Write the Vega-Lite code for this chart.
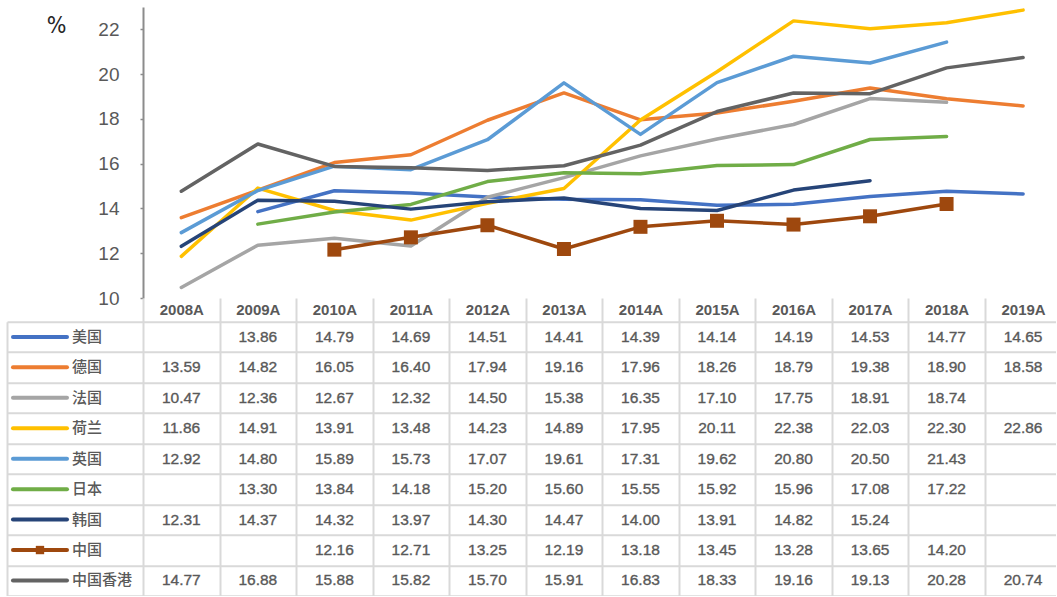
{
  "$schema": "https://vega.github.io/schema/vega-lite/v6.json",
  "padding": {"left": 7, "top": 7, "right": 0, "bottom": 0},
  "bounds": "flush",
  "spacing": 23.7,
  "config": {"view": {"stroke": null}, "font": "Liberation Sans"},
  "datasets": {
    "countries": [
      {"country": "美国"}, {"country": "德国"}, {"country": "法国"}, {"country": "荷兰"}, {"country": "英国"},
      {"country": "日本"}, {"country": "韩国"}, {"country": "中国"}, {"country": "中国香港"}
    ],
    "vals": [
      {"country": "美国", "year": 2009, "value": 13.86},
      {"country": "美国", "year": 2010, "value": 14.79},
      {"country": "美国", "year": 2011, "value": 14.69},
      {"country": "美国", "year": 2012, "value": 14.51},
      {"country": "美国", "year": 2013, "value": 14.41},
      {"country": "美国", "year": 2014, "value": 14.39},
      {"country": "美国", "year": 2015, "value": 14.14},
      {"country": "美国", "year": 2016, "value": 14.19},
      {"country": "美国", "year": 2017, "value": 14.53},
      {"country": "美国", "year": 2018, "value": 14.77},
      {"country": "美国", "year": 2019, "value": 14.65},
      {"country": "德国", "year": 2008, "value": 13.59},
      {"country": "德国", "year": 2009, "value": 14.82},
      {"country": "德国", "year": 2010, "value": 16.05},
      {"country": "德国", "year": 2011, "value": 16.40},
      {"country": "德国", "year": 2012, "value": 17.94},
      {"country": "德国", "year": 2013, "value": 19.16},
      {"country": "德国", "year": 2014, "value": 17.96},
      {"country": "德国", "year": 2015, "value": 18.26},
      {"country": "德国", "year": 2016, "value": 18.79},
      {"country": "德国", "year": 2017, "value": 19.38},
      {"country": "德国", "year": 2018, "value": 18.90},
      {"country": "德国", "year": 2019, "value": 18.58},
      {"country": "法国", "year": 2008, "value": 10.47},
      {"country": "法国", "year": 2009, "value": 12.36},
      {"country": "法国", "year": 2010, "value": 12.67},
      {"country": "法国", "year": 2011, "value": 12.32},
      {"country": "法国", "year": 2012, "value": 14.50},
      {"country": "法国", "year": 2013, "value": 15.38},
      {"country": "法国", "year": 2014, "value": 16.35},
      {"country": "法国", "year": 2015, "value": 17.10},
      {"country": "法国", "year": 2016, "value": 17.75},
      {"country": "法国", "year": 2017, "value": 18.91},
      {"country": "法国", "year": 2018, "value": 18.74},
      {"country": "荷兰", "year": 2008, "value": 11.86},
      {"country": "荷兰", "year": 2009, "value": 14.91},
      {"country": "荷兰", "year": 2010, "value": 13.91},
      {"country": "荷兰", "year": 2011, "value": 13.48},
      {"country": "荷兰", "year": 2012, "value": 14.23},
      {"country": "荷兰", "year": 2013, "value": 14.89},
      {"country": "荷兰", "year": 2014, "value": 17.95},
      {"country": "荷兰", "year": 2015, "value": 20.11},
      {"country": "荷兰", "year": 2016, "value": 22.38},
      {"country": "荷兰", "year": 2017, "value": 22.03},
      {"country": "荷兰", "year": 2018, "value": 22.30},
      {"country": "荷兰", "year": 2019, "value": 22.86},
      {"country": "英国", "year": 2008, "value": 12.92},
      {"country": "英国", "year": 2009, "value": 14.80},
      {"country": "英国", "year": 2010, "value": 15.89},
      {"country": "英国", "year": 2011, "value": 15.73},
      {"country": "英国", "year": 2012, "value": 17.07},
      {"country": "英国", "year": 2013, "value": 19.61},
      {"country": "英国", "year": 2014, "value": 17.31},
      {"country": "英国", "year": 2015, "value": 19.62},
      {"country": "英国", "year": 2016, "value": 20.80},
      {"country": "英国", "year": 2017, "value": 20.50},
      {"country": "英国", "year": 2018, "value": 21.43},
      {"country": "日本", "year": 2009, "value": 13.30},
      {"country": "日本", "year": 2010, "value": 13.84},
      {"country": "日本", "year": 2011, "value": 14.18},
      {"country": "日本", "year": 2012, "value": 15.20},
      {"country": "日本", "year": 2013, "value": 15.60},
      {"country": "日本", "year": 2014, "value": 15.55},
      {"country": "日本", "year": 2015, "value": 15.92},
      {"country": "日本", "year": 2016, "value": 15.96},
      {"country": "日本", "year": 2017, "value": 17.08},
      {"country": "日本", "year": 2018, "value": 17.22},
      {"country": "韩国", "year": 2008, "value": 12.31},
      {"country": "韩国", "year": 2009, "value": 14.37},
      {"country": "韩国", "year": 2010, "value": 14.32},
      {"country": "韩国", "year": 2011, "value": 13.97},
      {"country": "韩国", "year": 2012, "value": 14.30},
      {"country": "韩国", "year": 2013, "value": 14.47},
      {"country": "韩国", "year": 2014, "value": 14.00},
      {"country": "韩国", "year": 2015, "value": 13.91},
      {"country": "韩国", "year": 2016, "value": 14.82},
      {"country": "韩国", "year": 2017, "value": 15.24},
      {"country": "中国", "year": 2010, "value": 12.16},
      {"country": "中国", "year": 2011, "value": 12.71},
      {"country": "中国", "year": 2012, "value": 13.25},
      {"country": "中国", "year": 2013, "value": 12.19},
      {"country": "中国", "year": 2014, "value": 13.18},
      {"country": "中国", "year": 2015, "value": 13.45},
      {"country": "中国", "year": 2016, "value": 13.28},
      {"country": "中国", "year": 2017, "value": 13.65},
      {"country": "中国", "year": 2018, "value": 14.20},
      {"country": "中国香港", "year": 2008, "value": 14.77},
      {"country": "中国香港", "year": 2009, "value": 16.88},
      {"country": "中国香港", "year": 2010, "value": 15.88},
      {"country": "中国香港", "year": 2011, "value": 15.82},
      {"country": "中国香港", "year": 2012, "value": 15.70},
      {"country": "中国香港", "year": 2013, "value": 15.91},
      {"country": "中国香港", "year": 2014, "value": 16.83},
      {"country": "中国香港", "year": 2015, "value": 18.33},
      {"country": "中国香港", "year": 2016, "value": 19.16},
      {"country": "中国香港", "year": 2017, "value": 19.13},
      {"country": "中国香港", "year": 2018, "value": 20.28},
      {"country": "中国香港", "year": 2019, "value": 20.74}
    ]
  },
  "vconcat": [
    {
      "width": 1049,
      "height": 291,
      "layer": [
        {
          "data": {"name": "vals"},
          "mark": {"type": "line", "strokeWidth": 3.5, "strokeCap": "round", "strokeJoin": "round"},
          "encoding": {
            "x": {"field": "year", "type": "quantitative", "scale": {"domain": [2005.722, 2019.43], "nice": false, "zero": false}, "axis": null},
            "y": {
              "field": "value", "type": "quantitative",
              "scale": {"domain": [10, 23], "nice": false, "zero": false},
              "axis": {
                "values": [10, 12, 14, 16, 18, 20, 22],
                "offset": -136,
                "grid": false,
                "domainColor": "#8c8c8c", "domainWidth": 2,
                "tickColor": "#8c8c8c", "tickWidth": 1.5, "tickSize": 3,
                "labelFontSize": 19, "labelColor": "#595959", "labelPadding": 21,
                "title": "%", "titleAngle": 0, "titleX": -87, "titleY": 18,
                "titleFontSize": 23, "titleFontWeight": "normal", "titleColor": "#262626",
                "titleFont": "DejaVu Sans Condensed", "titleAlign": "center", "titleBaseline": "middle"
              }
            },
            "color": {
              "field": "country", "type": "nominal",
              "scale": {
                "domain": ["美国", "德国", "法国", "荷兰", "英国", "日本", "韩国", "中国", "中国香港"],
                "range": ["#4472C4", "#ED7D31", "#A5A5A5", "#FFC000", "#5B9BD5", "#70AD47", "#264478", "#9E480E", "#636363"]
              },
              "legend": null
            }
          }
        },
        {
          "data": {"name": "vals"},
          "transform": [{"filter": "datum.country === '中国'"}],
          "mark": {"type": "square", "size": 196, "filled": true, "opacity": 1, "color": "#9E480E"},
          "encoding": {
            "x": {"field": "year", "type": "quantitative"},
            "y": {"field": "value", "type": "quantitative"}
          }
        },
        {
          "mark": {"type": "rule", "color": "#d9d9d9", "strokeWidth": 2},
          "encoding": {
            "x": {"datum": 2007.5},
            "x2": {"datum": 2019.43},
            "y": {"datum": 10}
          }
        }
      ]
    },
    {
      "width": 1049,
      "height": 274,
      "layer": [
        {
          "data": {"name": "vals"},
          "mark": {"type": "text", "fontSize": 15.5, "color": "#595959", "stroke": "#595959", "strokeWidth": 0.35},
          "encoding": {
            "x": {
              "field": "year", "type": "quantitative",
              "scale": {"domain": [2005.722, 2019.43], "nice": false, "zero": false},
              "axis": {
                "orient": "top",
                "values": [2007.5, 2008.5, 2009.5, 2010.5, 2011.5, 2012.5, 2013.5, 2014.5, 2015.5, 2016.5, 2017.5, 2018.5],
                "grid": true, "gridColor": "#d9d9d9", "gridWidth": 2,
                "domain": false,
                "ticks": true, "tickSize": 23.7, "tickColor": "#d9d9d9", "tickWidth": 2,
                "labelExpr": "(datum.value + 0.5) + 'A'",
                "labelOffset": 38.25, "labelPadding": -11.85, "labelBaseline": "middle",
                "labelFontSize": 15, "labelColor": "#595959", "labelFontWeight": 600,
                "labelFlush": false, "labelOverlap": false, "labelBound": false,
                "title": null
              }
            },
            "y": {
              "field": "country", "type": "nominal",
              "scale": {"type": "band", "paddingInner": 0, "paddingOuter": 0, "domain": ["美国", "德国", "法国", "荷兰", "英国", "日本", "韩国", "中国", "中国香港"]},
              "axis": {
                "orient": "left", "tickBand": "extent",
                "grid": true, "gridColor": "#d9d9d9", "gridWidth": 2,
                "domain": true, "domainColor": "#d9d9d9", "domainWidth": 2,
                "ticks": false, "labels": false, "title": null
              }
            },
            "text": {"field": "value", "type": "quantitative", "format": ".2f"}
          }
        },
        {
          "data": {"name": "countries"},
          "mark": {"type": "rule", "strokeWidth": 4, "strokeCap": "round"},
          "encoding": {
            "x": {"datum": 2005.8},
            "x2": {"datum": 2006.506},
            "y": {"field": "country", "type": "nominal"},
            "color": {"field": "country", "type": "nominal", "legend": null}
          }
        },
        {
          "data": {"name": "countries"},
          "transform": [{"filter": "datum.country === '中国'"}],
          "mark": {"type": "square", "size": 70, "filled": true, "opacity": 1, "color": "#9E480E"},
          "encoding": {
            "x": {"datum": 2006.153},
            "y": {"field": "country", "type": "nominal"}
          }
        },
        {
          "data": {"name": "countries"},
          "mark": {"type": "text", "align": "left", "fontSize": 15, "font": "Noto Sans CJK SC", "color": "#595959", "fontWeight": 500},
          "encoding": {
            "x": {"datum": 2006.572},
            "y": {"field": "country", "type": "nominal"},
            "text": {"field": "country"}
          }
        }
      ]
    }
  ]
}
